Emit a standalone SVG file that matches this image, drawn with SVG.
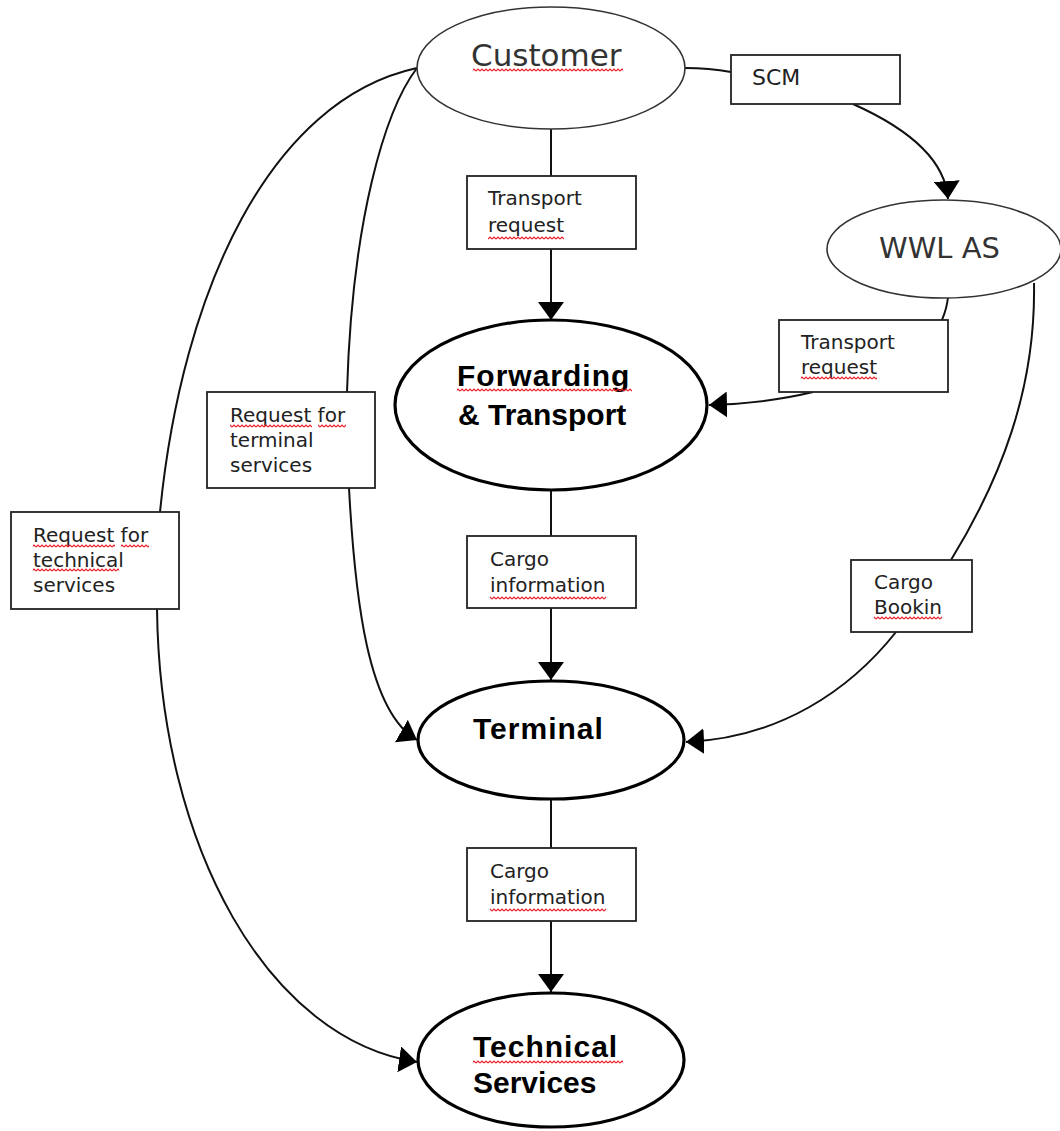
<svg xmlns="http://www.w3.org/2000/svg" width="1060" height="1131" viewBox="0 0 1060 1131">
<style>
.bg{fill:#ffffff}
.thin{fill:#ffffff;stroke:#333333;stroke-width:1.6}
.bold{fill:#ffffff;stroke:#000000;stroke-width:3.2}
.box{fill:#ffffff;stroke:#222222;stroke-width:1.8}
.con{fill:none;stroke:#111111;stroke-width:2}
.lbl{font-family:"DejaVu Sans","Liberation Sans",sans-serif;font-size:20px;fill:#222222}
.big{font-family:"DejaVu Sans","Liberation Sans",sans-serif;font-size:31px;fill:#333333}
.bt{font-family:"Liberation Sans","DejaVu Sans",sans-serif;font-size:30px;font-weight:bold;fill:#000000;letter-spacing:1px}
</style>
<defs>
<marker id="arr" markerUnits="userSpaceOnUse" markerWidth="20" markerHeight="26" refX="18" refY="13" orient="auto">
<path d="M0,0 L18,13 L0,26 Z" fill="#000000"/>
</marker>
<pattern id="sq" width="4" height="4" patternUnits="userSpaceOnUse">
<path d="M0,3 L2,1 L4,3" fill="none" stroke="#e8202a" stroke-width="1.2"/>
</pattern>
</defs>
<rect class="bg" x="0" y="0" width="1060" height="1131"/>

<g id="connectors">
<path class="con" d="M685,68 C705,68 720,70 731,72"/>
<path class="con" d="M853,104 C900,125 945,155 948,199" marker-end="url(#arr)"/>
<path class="con" d="M551,129 L551,176"/>
<path class="con" d="M551,249 L551,320" marker-end="url(#arr)"/>
<path class="con" d="M948,297 C947,308 944,315 942,320"/>
<path class="con" d="M813,392 C780,400 745,404 709,405" marker-end="url(#arr)"/>
<path class="con" d="M551,490 L551,536"/>
<path class="con" d="M551,608 L551,680" marker-end="url(#arr)"/>
<path class="con" d="M551,799 L551,848"/>
<path class="con" d="M551,921 L551,992" marker-end="url(#arr)"/>
<path class="con" d="M1034,283 C1036,390 1000,480 951,560"/>
<path class="con" d="M896,632 C850,690 780,738 686,742" marker-end="url(#arr)"/>
<path class="con" d="M417,68 C385,110 352,220 347,392"/>
<path class="con" d="M349,488 C355,600 368,712 417,740" marker-end="url(#arr)"/>
<path class="con" d="M417,68 C270,100 182,290 160,512"/>
<path class="con" d="M157,609 C160,850 270,1040 417,1062" marker-end="url(#arr)"/>
</g>

<g id="customer">
<ellipse class="thin" cx="551" cy="68" rx="134" ry="61"/>
<text class="big" x="471" y="66">Customer</text>
</g>
<g id="scm">
<rect class="box" x="731" y="55" width="169" height="49"/>
<text class="lbl" x="752" y="85" style="font-size:22px">SCM</text>
</g>
<g id="wwl-as">
<ellipse class="thin" cx="944" cy="249" rx="117" ry="49"/>
<text class="big" x="879" y="258" style="font-size:29px">WWL AS</text>
</g>
<g id="transport-request-1">
<rect class="box" x="467" y="176" width="169" height="73"/>
<text class="lbl" x="488" y="205">Transport</text>
<text class="lbl" x="488" y="232">request</text>
</g>
<g id="transport-request-2">
<rect class="box" x="779" y="320" width="169" height="72"/>
<text class="lbl" x="801" y="349">Transport</text>
<text class="lbl" x="801" y="374">request</text>
</g>
<g id="forwarding-transport">
<ellipse class="bold" cx="551" cy="405" rx="156" ry="85"/>
<text class="bt" x="457" y="386">Forwarding</text>
<text class="bt" x="458" y="425" style="letter-spacing:0px">&amp; Transport</text>
</g>
<g id="request-terminal-services">
<rect class="box" x="207" y="392" width="168" height="96"/>
<text class="lbl" x="230" y="422">Request for</text>
<text class="lbl" x="230" y="447">terminal</text>
<text class="lbl" x="230" y="472">services</text>
</g>
<g id="request-technical-services">
<rect class="box" x="11" y="512" width="168" height="97"/>
<text class="lbl" x="33" y="542">Request for</text>
<text class="lbl" x="33" y="567">technical</text>
<text class="lbl" x="33" y="592">services</text>
</g>
<g id="cargo-information-1">
<rect class="box" x="467" y="536" width="169" height="72"/>
<text class="lbl" x="490" y="566">Cargo</text>
<text class="lbl" x="490" y="592">information</text>
</g>
<g id="cargo-bookin">
<rect class="box" x="851" y="560" width="121" height="72"/>
<text class="lbl" x="874" y="589">Cargo</text>
<text class="lbl" x="874" y="614">Bookin</text>
</g>
<g id="terminal">
<ellipse class="bold" cx="551" cy="740" rx="133" ry="59"/>
<text class="bt" x="473" y="739">Terminal</text>
</g>
<g id="cargo-information-2">
<rect class="box" x="467" y="848" width="169" height="73"/>
<text class="lbl" x="490" y="878">Cargo</text>
<text class="lbl" x="490" y="904">information</text>
</g>
<g id="technical-services">
<ellipse class="bold" cx="551" cy="1060" rx="133" ry="67"/>
<text class="bt" x="473" y="1057">Technical</text>
<text class="bt" x="473" y="1093" style="letter-spacing:0px">Services</text>
</g>

<g id="spellcheck-marks" fill="url(#sq)">
<rect x="473" y="68" width="150" height="4"/>
<rect x="488" y="236" width="76" height="4"/>
<rect x="801" y="376" width="76" height="4"/>
<rect x="457" y="388" width="175" height="4"/>
<rect x="490" y="596" width="116" height="4"/>
<rect x="874" y="616" width="68" height="4"/>
<rect x="490" y="908" width="116" height="4"/>
<rect x="230" y="424" width="82" height="4"/>
<rect x="318" y="424" width="28" height="4"/>
<rect x="33" y="544" width="82" height="4"/>
<rect x="121" y="544" width="28" height="4"/>
<rect x="33" y="568" width="86" height="4"/>
<rect x="473" y="1060" width="150" height="4"/>
</g>
</svg>
